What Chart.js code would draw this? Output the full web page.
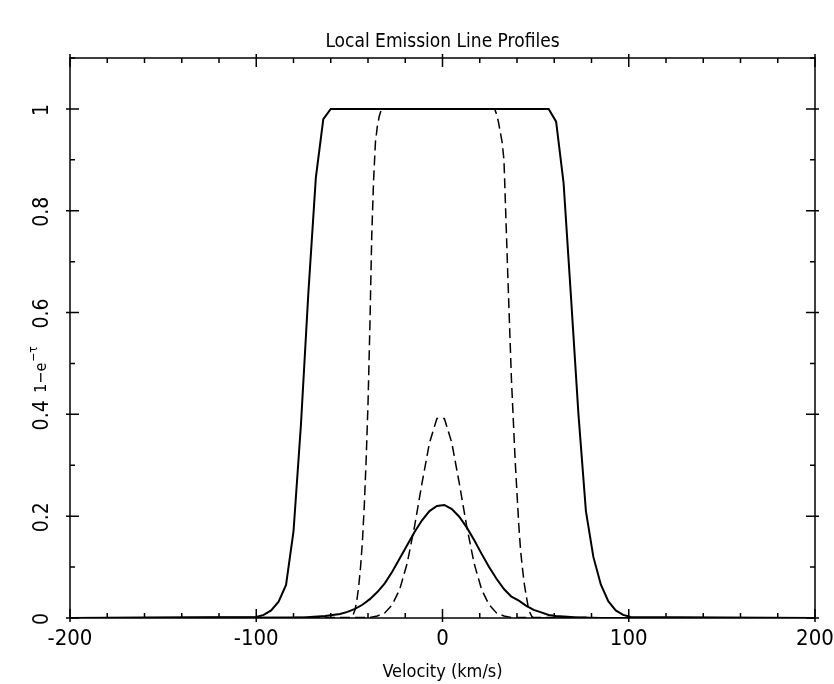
<!DOCTYPE html>
<html>
<head>
<meta charset="utf-8">
<title>Local Emission Line Profiles</title>
<script src="https://cdn.jsdelivr.net/npm/chart.js@4.4.1/dist/chart.umd.min.js"></script>
<style>
  html, body { margin: 0; padding: 0; background: #fff; }
  #wrap { width: 834px; height: 684px; }
</style>
</head>
<body>
<div id="wrap"><canvas id="profileChart" width="834" height="684"></canvas></div>
<script>
const FONT = "'DejaVu Sans Condensed', 'Liberation Sans Narrow', 'DejaVu Sans', sans-serif";
const TITLE = 'Local Emission Line Profiles';

// axis ticks
const xTickValues = [-200, -100, 0, 100, 200];
const yTickValues = [0, 0.2, 0.4, 0.6, 0.8, 1];
const yTickLabels = ['0', '0.2', '0.4', '0.6', '0.8', '1'];

// wide saturated profile (solid)
const wideVel = [-200, -100, -96, -92, -88, -84, -80, -76, -72, -68, -64, -60,
  57, 61, 65, 69, 73, 77, 81, 85, 89, 93, 97, 101, 200];
const wideVal = [0, 0.002, 0.006, 0.015, 0.032, 0.065, 0.17, 0.38, 0.64, 0.865, 0.98, 1.0,
  1.0, 0.975, 0.855, 0.63, 0.40, 0.21, 0.12, 0.066, 0.033, 0.015, 0.006, 0.002, 0];

// narrow saturated profile (dashed)
const narrowVel = [-200, -50, -49, -48, -47, -46, -45, -44, -43, -42, -41, -40, -39, -38, -37, -36, -35, -34, -33, -32,
  28, 29, 30, 31, 32, 33, 34, 35, 36, 37, 38, 39, 40, 41, 42, 43, 44, 45, 46, 47, 48, 49, 200];
const narrowVal = [0, 0, 0.001, 0.006, 0.016, 0.034, 0.062, 0.10, 0.15, 0.22, 0.31, 0.42, 0.57, 0.75, 0.86, 0.935, 0.965, 0.985, 0.997, 1.0,
  1.0, 0.99, 0.975, 0.955, 0.935, 0.90, 0.79, 0.68, 0.575, 0.47, 0.39, 0.31, 0.245, 0.18, 0.13, 0.095, 0.065, 0.043, 0.022, 0.01, 0.003, 0, 0];

// optically thin, narrow (dashed)
const peakVel = [-200, -39, -35, -31, -27, -23, -19, -15, -11, -7, -3, 1, 5, 9, 13, 17, 21, 25, 29, 33, 37, 200];
const peakVal = [0, 0.001, 0.004, 0.010, 0.026, 0.056, 0.107, 0.180, 0.265, 0.344, 0.392,
  0.392, 0.344, 0.265, 0.180, 0.107, 0.056, 0.026, 0.010, 0.004, 0.001, 0];

// optically thin, broad (solid)
const broadVel = [-200, -79, -75, -71, -67, -63, -59, -55, -51, -47, -43, -39, -35, -31, -27, -23, -19, -15, -11, -7, -3,
  1, 5, 9, 13, 17, 21, 25, 29, 33, 37, 41, 45, 49, 53, 57, 61, 65, 69, 73, 77, 81, 200];
const broadVal = [0, 0.001, 0.001, 0.002, 0.003, 0.004, 0.006, 0.008, 0.012, 0.018, 0.026, 0.037, 0.051, 0.068, 0.091, 0.117, 0.143, 0.169, 0.192, 0.210, 0.220,
  0.222, 0.214, 0.199, 0.178, 0.153, 0.126, 0.100, 0.077, 0.057, 0.042, 0.034, 0.024, 0.016, 0.011, 0.006, 0.004, 0.003, 0.002, 0.001, 0.001, 0, 0];

function toPoints(vel, val) {
  return vel.map((v, i) => ({ x: v, y: val[i] }));
}

function lineSet(label, vel, val, dashed) {
  return {
    label: label,
    data: toPoints(vel, val),
    borderColor: '#000',
    borderWidth: dashed ? 1.5 : 2,
    borderDash: dashed ? [10, 5] : [],
    pointRadius: 0,
    tension: 0,
    fill: false
  };
}

// marco, marcas hacia dentro, título y rótulos del eje y
const frameTicks = {
  id: 'frameTicks',
  afterDatasetsDraw(chart) {
    const { ctx, chartArea: a, scales: { x, y } } = chart;
    ctx.save();
    ctx.strokeStyle = '#000';
    ctx.lineWidth = 1.5;
    ctx.strokeRect(a.left, a.top, a.right - a.left, a.bottom - a.top);

    ctx.beginPath();
    for (let v = -200; v <= 200; v += 20) {
      const px = x.getPixelForValue(v);
      const major = xTickValues.includes(v);
      const len = major ? 9 : 5;
      ctx.moveTo(px, a.bottom + (major ? 4 : 0));
      ctx.lineTo(px, a.bottom - len);
      ctx.moveTo(px, a.top - (major ? 4 : 0));
      ctx.lineTo(px, a.top + len);
    }
    for (let k = 0; k <= 11; k++) {
      const v = k / 10;
      const py = y.getPixelForValue(v);
      const major = k % 2 === 0;
      const len = major ? 9 : 5;
      ctx.moveTo(a.left - (major ? 4 : 0), py);
      ctx.lineTo(a.left + len, py);
      ctx.moveTo(a.right + (major ? 4 : 0), py);
      ctx.lineTo(a.right - len, py);
    }
    ctx.stroke();

    ctx.fillStyle = '#000';

    // título arriba, centrado sobre el área del gráfico
    ctx.font = '19px ' + FONT;
    ctx.textAlign = 'center';
    ctx.textBaseline = 'middle';
    ctx.fillText(TITLE, (a.left + a.right) / 2, 42);

    // rótulos girados
    ctx.font = '21px ' + FONT;
    yTickValues.forEach((v, i) => {
      ctx.save();
      ctx.translate(43, y.getPixelForValue(v) + 1);
      ctx.rotate(-Math.PI / 2);
      ctx.fillText(yTickLabels[i], 0, 0);
      ctx.restore();
    });

    // título del eje y: 1-e^-tau
    ctx.save();
    ctx.translate(40, 370);
    ctx.rotate(-Math.PI / 2);
    ctx.textAlign = 'left';
    ctx.textBaseline = 'alphabetic';
    const base = '1\u2212e';
    const sup = '\u2212\u03c4';
    ctx.font = '16px ' + FONT;
    const wBase = ctx.measureText(base).width;
    ctx.font = '12px ' + FONT;
    const wSup = ctx.measureText(sup).width;
    const start = -(wBase + wSup) / 2;
    ctx.font = '16px ' + FONT;
    ctx.fillText(base, start, 6);
    ctx.font = '12px ' + FONT;
    ctx.fillText(sup, start + wBase + 1, -3);
    ctx.restore();

    ctx.restore();
  }
};

new Chart(document.getElementById('profileChart'), {
  type: 'line',
  data: {
    datasets: [
      lineSet('Wide, saturated', wideVel, wideVal, false),
      lineSet('Narrow, saturated', narrowVel, narrowVal, true),
      lineSet('Narrow, thin', peakVel, peakVal, true),
      lineSet('Broad, thin', broadVel, broadVal, false)
    ]
  },
  options: {
    responsive: false,
    animation: false,
    devicePixelRatio: 1,
    layout: { padding: { top: 58, right: 19, bottom: 0, left: 0 } },
    plugins: {
      legend: { display: false },
      tooltip: { enabled: false },
      title: { display: false }
    },
    scales: {
      x: {
        type: 'linear',
        min: -200,
        max: 200,
        afterBuildTicks: (s) => { s.ticks = xTickValues.map(v => ({ value: v })); },
        afterFit: (s) => { s.height = 66; s.paddingLeft = 0; s.paddingRight = 0; },
        ticks: {
          color: '#000',
          font: { family: FONT, size: 22 },
          padding: 8,
          maxRotation: 0
        },
        grid: { display: false, drawTicks: false },
        border: { display: false },
        title: {
          display: true,
          text: 'Velocity (km/s)',
          color: '#000',
          font: { family: FONT, size: 18 },
          padding: { top: 0, bottom: 1 }
        }
      },
      y: {
        type: 'linear',
        min: 0,
        max: 1.1,
        afterFit: (s) => { s.width = 70; },
        ticks: { display: false },
        grid: { display: false, drawTicks: false },
        border: { display: false }
      }
    }
  },
  plugins: [frameTicks]
});
</script>
</body>
</html>
